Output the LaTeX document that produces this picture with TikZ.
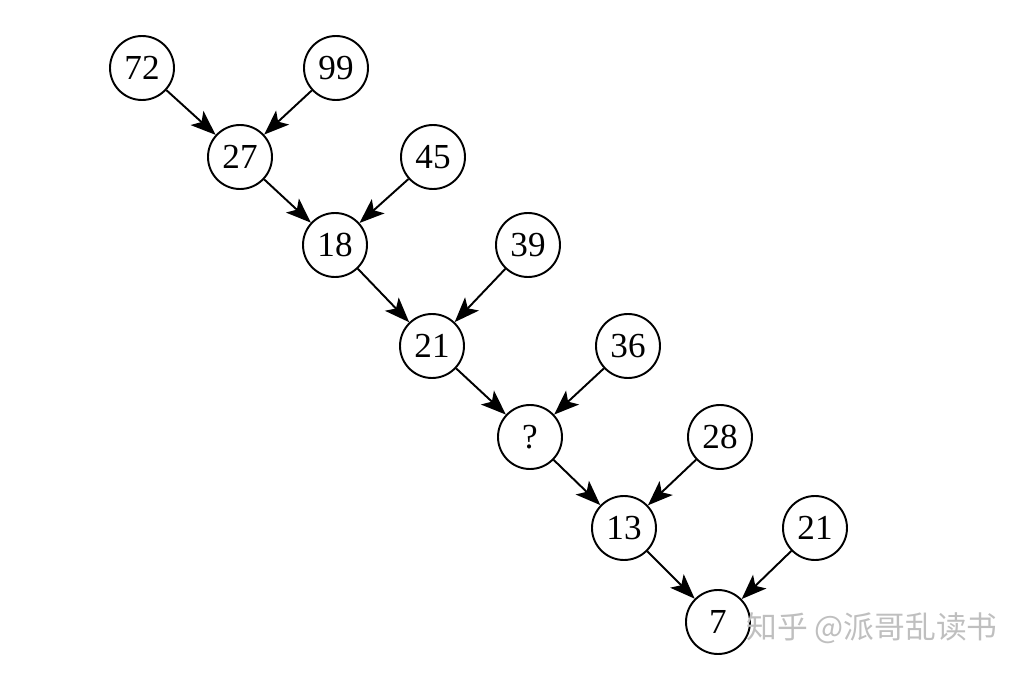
\documentclass[tikz,border=0pt]{standalone}
\usepackage{fontspec}
\setmainfont{Liberation Serif}
\newfontfamily\cjkfont{Noto Sans CJK SC}
\usetikzlibrary{arrows.meta}

\begin{document}
\begin{tikzpicture}[
  >={Stealth[length=0.5cm, width=0.38cm, inset=0.12cm]},
  num/.style={
    circle, draw, line width=1.1pt,
    minimum size=1.28cm, inner sep=0pt,
    font=\fontsize{20}{22}\selectfont,
  },
  arrow/.style={->, line width=1.1pt},
]
\useasboundingbox (0,0) rectangle (20.54,13.44);

% ── chain (left side)
\node[num] (n72) at (2.84,12.08) {72};
\node[num] (n27) at (4.80,10.30) {27};
\node[num] (n18) at (6.70,8.54) {18};
\node[num] (n21a) at (8.64,6.52) {21};
\node[num] (nq) at (10.60,4.70) {?};
\node[num] (n13) at (12.48,2.88) {13};
\node[num] (n7) at (14.36,1.00) {7};

% ── inputs (right side)
\node[num] (n99) at (6.72,12.08) {99};
\node[num] (n45) at (8.66,10.30) {45};
\node[num] (n39) at (10.56,8.54) {39};
\node[num] (n36) at (12.56,6.52) {36};
\node[num] (n28) at (14.40,4.70) {28};
\node[num] (n21b) at (16.30,2.88) {21};

% ── arrows
\draw[arrow] (n72) -- (n27);
\draw[arrow] (n99) -- (n27);
\draw[arrow] (n27) -- (n18);
\draw[arrow] (n45) -- (n18);
\draw[arrow] (n18) -- (n21a);
\draw[arrow] (n39) -- (n21a);
\draw[arrow] (n21a) -- (nq);
\draw[arrow] (n36) -- (nq);
\draw[arrow] (nq) -- (n13);
\draw[arrow] (n28) -- (n13);
\draw[arrow] (n13) -- (n7);
\draw[arrow] (n21b) -- (n7);

% ── watermark
\node[font=\cjkfont\fontsize{17.5}{20}\selectfont, text=gray!50] (mark)
  at (17.44,0.88) {知乎 @派哥乱读书};

\end{tikzpicture}
\end{document}
